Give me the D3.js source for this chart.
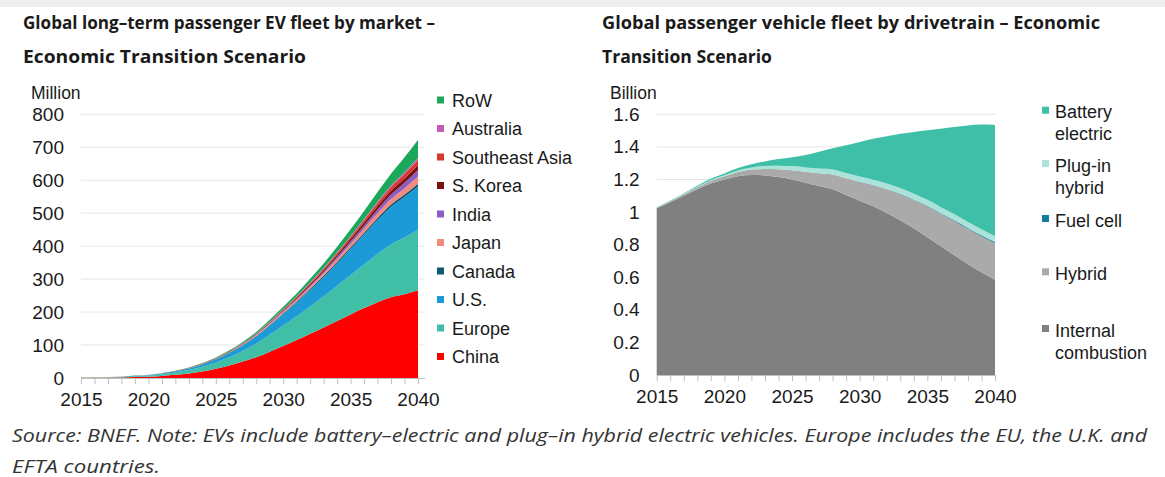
<!DOCTYPE html>
<html>
<head>
<meta charset="utf-8">
<script src="https://cdn.jsdelivr.net/npm/d3@7"></script>
<style>
  html, body { margin: 0; padding: 0; background: #ffffff; }
  svg { display: block; }
</style>
</head>
<body>
<svg id="chart" width="1165" height="477"></svg>
<script>
// ---------- DATA ----------
const years = d3.range(2015, 2041);

// Left chart: passenger EV fleet by market (million)
const evMarkets = ["China", "Europe", "U.S.", "Canada", "Japan", "India", "S. Korea", "Southeast Asia", "Australia", "RoW"];
const evChina     = [0.4,0.7,1.1,1.8,2.8,3.8,6,9.5,14,20,28,38,50,63,80,97,115,134,153,173,193,212,230,245,254,266];
const evEurope    = [0.3,0.5,0.8,1.3,2.2,3.5,5,7,10,14,19,25,32,41,51,62,72,83,95,107,119,132,146,160,172,184];
const evUS        = [0.3,0.4,0.6,0.9,1.4,1.8,2.5,3.4,5,7,9.5,13,17,22,28,35,42,50,58,68,79,91,103,114,123,131];
const evCanada    = [0.02,0.03,0.05,0.08,0.12,0.15,0.2,0.3,0.4,0.6,0.8,1,1.3,1.7,2.1,2.6,3.1,3.7,4.2,4.8,5.4,6,6.6,7.1,7.6,8];
const evJapan     = [0.1,0.12,0.15,0.2,0.25,0.3,0.4,0.5,0.7,0.9,1.2,1.6,2.1,2.7,3.4,4.2,5.2,6.3,7.5,9,10.7,12.6,14.6,16.8,19.3,22];
const evIndia     = [0,0,0,0,0.01,0.02,0.05,0.1,0.2,0.3,0.45,0.65,0.9,1.2,1.6,2.1,2.8,3.7,4.8,6.1,7.6,9.3,11.3,13.6,16.5,20];
const evSKorea    = [0.01,0.02,0.03,0.05,0.08,0.12,0.2,0.3,0.45,0.6,0.8,1.1,1.4,1.8,2.3,2.9,3.6,4.4,5.3,6.3,7.4,8.6,10,11.5,13.2,15];
const evSEAsia    = [0,0,0,0,0.01,0.02,0.04,0.08,0.15,0.25,0.4,0.6,0.85,1.15,1.5,1.95,2.5,3.2,4,5,6.2,7.6,9.2,11,13,15];
const evAustralia = [0,0,0,0.01,0.02,0.03,0.05,0.08,0.12,0.17,0.24,0.32,0.42,0.55,0.7,0.9,1.15,1.45,1.8,2.2,2.7,3.3,4,4.8,5.8,7];
const evRoW       = [0.1,0.15,0.2,0.3,0.4,0.5,0.7,0.9,1.2,1.6,2.1,2.8,3.6,4.6,5.8,7.2,9,11,13.5,16.5,20,24.5,29.5,36,45,55];
const evYTicks = [0,100,200,300,400,500,600,700,800];

// Right chart: passenger vehicle fleet by drivetrain (billion)
const dtNames = ["Internal combustion", "Hybrid", "Fuel cell", "Plug-in hybrid", "Battery electric"];
const dtICE    = [1.023,1.06,1.1,1.14,1.175,1.2,1.22,1.228,1.225,1.215,1.2,1.18,1.16,1.14,1.105,1.07,1.035,0.995,0.95,0.9,0.845,0.79,0.735,0.68,0.63,0.583];
const dtHybrid = [0.004,0.006,0.009,0.012,0.016,0.02,0.026,0.033,0.04,0.048,0.057,0.067,0.078,0.09,0.102,0.115,0.13,0.145,0.16,0.175,0.19,0.2,0.21,0.217,0.222,0.225];
const dtFuel   = [0,0,0,0,0,0,0,0,0,0,0,0,0,0,0,0.001,0.001,0.001,0.002,0.002,0.003,0.003,0.004,0.005,0.006,0.008];
const dtPHEV   = [0.001,0.002,0.003,0.004,0.005,0.006,0.009,0.013,0.018,0.022,0.025,0.027,0.029,0.031,0.032,0.033,0.033,0.034,0.035,0.036,0.037,0.037,0.037,0.037,0.036,0.035];
const dtBEV    = [0.002,0.003,0.004,0.006,0.008,0.011,0.015,0.02,0.028,0.04,0.055,0.076,0.103,0.13,0.171,0.211,0.251,0.29,0.333,0.379,0.427,0.482,0.536,0.593,0.643,0.684];
const dtYTicks = [0,0.2,0.4,0.6,0.8,1,1.2,1.4,1.6];

const xTickLabels = [2015, 2020, 2025, 2030, 2035, 2040];

// ---------- STYLE ----------
const evColors = {
  "China": "#ff0000", "Europe": "#40bfa6", "U.S.": "#1c9ad8", "Canada": "#0e5a72",
  "Japan": "#f28a80", "India": "#8a5cc4", "S. Korea": "#7a1212", "Southeast Asia": "#d8382c",
  "Australia": "#c65ab6", "RoW": "#1ca85a"
};
const dtColors = {
  "Internal combustion": "#808080", "Hybrid": "#aaaaaa", "Fuel cell": "#107ea0",
  "Plug-in hybrid": "#abe3db", "Battery electric": "#40bfa8"
};

const svg = d3.select("#chart");
svg.append("rect").attr("x", 0).attr("y", 0).attr("width", 1165).attr("height", 477).attr("fill", "#fff");
svg.append("rect").attr("x", 0).attr("y", 0).attr("width", 1165).attr("height", 7).attr("fill", "#efefef");

const tickFont = "'Liberation Sans', Arial, sans-serif";
const titleFont = "'Open Sans', 'Noto Sans', sans-serif";

// Titles
function title(x, y, txt, len) {
  svg.append("text").attr("x", x).attr("y", y).text(txt)
    .attr("font-family", titleFont).attr("font-weight", 700).attr("font-size", 17.5)
    .attr("fill", "#1a1a1a")
    .attr("textLength", len).attr("lengthAdjust", "spacingAndGlyphs");
}
title(23, 29, "Global long–term passenger EV fleet by market –", 412);
title(23, 63, "Economic Transition Scenario", 283);
title(602, 29, "Global passenger vehicle fleet by drivetrain – Economic", 498);
title(602, 63, "Transition Scenario", 170);

// ---------- Generic stacked area ----------
function drawPanel(opts) {
  const { keys, series, colors, x0, x1, y0, y1, yMax, yTicks, unit, unitX, tickFmt, gridX1 } = opts;
  const rows = years.map((yr, i) => {
    const r = { year: yr };
    keys.forEach((k, j) => r[k] = series[j][i]);
    return r;
  });
  const x = d3.scaleLinear().domain([2015, 2040]).range([x0, x1]);
  const y = d3.scaleLinear().domain([0, yMax]).range([y0, y1]);
  const g = svg.append("g");

  // gridlines
  g.append("g").selectAll("line").data(yTicks.filter(t => t > 0)).join("line")
    .attr("x1", x0).attr("x2", gridX1).attr("y1", d => y(d)).attr("y2", d => y(d))
    .attr("stroke", "#e6e6e6").attr("stroke-width", 1);

  const stack = d3.stack().keys(keys)(rows);
  const area = d3.area().x(d => x(d.data.year)).y0(d => y(d[0])).y1(d => y(d[1]))
    .curve(d3.curveMonotoneX);
  g.append("g").selectAll("path").data(stack).join("path")
    .attr("d", area).attr("fill", d => colors[d.key]);

  // y axis labels
  const yAxis = d3.axisLeft(y).tickValues(yTicks).tickSize(0).tickPadding(0).tickFormat(tickFmt);
  const ya = g.append("g").attr("transform", `translate(${x0 - 17},0)`).call(yAxis);
  ya.select(".domain").remove();
  ya.selectAll("text").attr("font-family", tickFont).attr("font-size", 19).attr("fill", "#1a1a1a");

  // x axis
  const xAxis = d3.axisBottom(x).tickValues(years).tickSize(6).tickFormat(d => xTickLabels.includes(d) ? d : "");
  const xa = g.append("g").attr("transform", `translate(0,${y0})`).call(xAxis);
  xa.select(".domain").attr("stroke", "#bfbfbf").attr("d", `M${x0},0.5H${gridX1}`);
  xa.selectAll(".tick line").attr("stroke", "#bfbfbf");
  xa.selectAll("text").attr("font-family", tickFont).attr("font-size", 19).attr("fill", "#1a1a1a").attr("dy", "1.0em");

  // unit label
  g.append("text").attr("x", unitX).attr("y", 99).text(unit)
    .attr("font-family", tickFont).attr("font-size", 17.5).attr("fill", "#1a1a1a");
}

drawPanel({
  keys: evMarkets,
  series: [evChina, evEurope, evUS, evCanada, evJapan, evIndia, evSKorea, evSEAsia, evAustralia, evRoW],
  colors: evColors, x0: 81, x1: 418, y0: 378, y1: 114.3, yMax: 800, yTicks: evYTicks,
  unit: "Million", unitX: 31, tickFmt: d => d, gridX1: 425
});

drawPanel({
  keys: dtNames,
  series: [dtICE, dtHybrid, dtFuel, dtPHEV, dtBEV],
  colors: dtColors, x0: 656.7, x1: 995, y0: 375, y1: 114.3, yMax: 1.6, yTicks: dtYTicks,
  unit: "Billion", unitX: 610, tickFmt: d => String(Math.round(d * 10) / 10), gridX1: 995
});

// ---------- Legends ----------
const legFont = "'Liberation Sans', Arial, sans-serif";
const evLegend = ["RoW", "Australia", "Southeast Asia", "S. Korea", "India", "Japan", "Canada", "U.S.", "Europe", "China"];
const lg = svg.append("g");
evLegend.forEach((k, i) => {
  const cy = 100 + i * 28.5;
  lg.append("rect").attr("x", 437).attr("y", cy - 3.5).attr("width", 7).attr("height", 7).attr("fill", evColors[k]);
  lg.append("text").attr("x", 452).attr("y", cy + 6.5).text(k)
    .attr("font-family", legFont).attr("font-size", 18).attr("fill", "#1a1a1a");
});

const dtLegend = [
  { k: "Battery electric", lines: ["Battery", "electric"], y: 111.7 },
  { k: "Plug-in hybrid", lines: ["Plug-in", "hybrid"], y: 165 },
  { k: "Fuel cell", lines: ["Fuel cell"], y: 220 },
  { k: "Hybrid", lines: ["Hybrid"], y: 273.3 },
  { k: "Internal combustion", lines: ["Internal", "combustion"], y: 330 }
];
dtLegend.forEach(d => {
  lg.append("rect").attr("x", 1042).attr("y", d.y - 5).attr("width", 7).attr("height", 7).attr("fill", dtColors[d.k]);
  d.lines.forEach((ln, j) => {
    lg.append("text").attr("x", 1055).attr("y", d.y + 6.5 + j * 22).text(ln)
      .attr("font-family", legFont).attr("font-size", 18).attr("fill", "#1a1a1a");
  });
});

// ---------- Source ----------
const srcFont = "'Liberation Sans Narrow', 'Open Sans', sans-serif";
svg.append("text").attr("x", 12).attr("y", 442)
  .text("Source: BNEF. Note: EVs include battery–electric and plug–in hybrid electric vehicles. Europe includes the EU, the U.K. and")
  .attr("font-family", srcFont).attr("font-style", "italic").attr("font-size", 18)
  .attr("fill", "#333").attr("textLength", 1135).attr("lengthAdjust", "spacingAndGlyphs");
svg.append("text").attr("x", 12).attr("y", 473)
  .text("EFTA countries.")
  .attr("font-family", srcFont).attr("font-style", "italic").attr("font-size", 18)
  .attr("fill", "#333").attr("textLength", 148).attr("lengthAdjust", "spacingAndGlyphs");
</script>
</body>
</html>
